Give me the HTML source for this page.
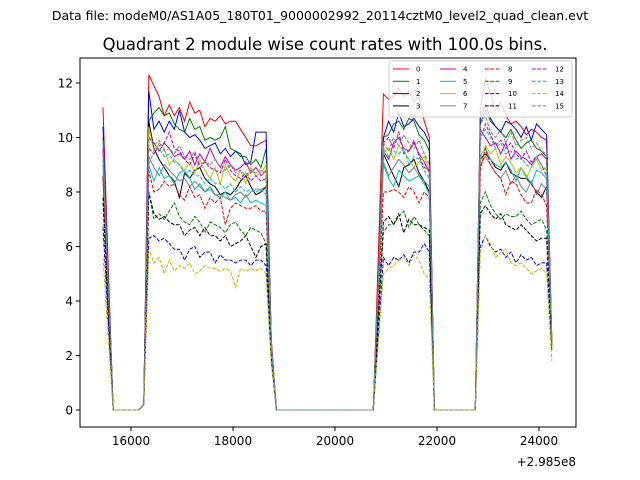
<!DOCTYPE html>
<html><head><meta charset="utf-8"><style>
body{margin:0;background:#fff;}
svg{font-family:"DejaVu Sans","Liberation Sans",sans-serif;display:block}
</style></head><body>
<svg id="chart" width="640" height="480">
<rect width="640" height="480" fill="#fff"/>
<text x="320" y="20" font-size="12.5" text-anchor="middle">Data file: modeM0/AS1A05_180T01_9000002992_20114cztM0_level2_quad_clean.evt</text>
<text x="325" y="50" font-size="16.4" text-anchor="middle">Quadrant 2 module wise count rates with 100.0s bins.</text>
<g id="plot"></g>
<rect x="80" y="58" width="496" height="369" fill="none" stroke="#000" stroke-width="1"/>
<g id="axes"></g>
<text x="576" y="466" font-size="12" text-anchor="end">+2.985e8</text>
<g id="legend"></g>
</svg>
<script>
const colors=["#ff0000","#008000","#0000ff","#000000","#bf00bf","#00bfbf","#bfbf00","#808080"];
const peak0=[11.1,10.0,10.4,8.6,9.5,9.9,9.2,9.0,8.5,7.6,6.7,7.8,9.6,9.2,5.6,9.4];
const mid0=[5.5,5.0,5.2,4.3,4.7,4.9,4.6,4.5,4.2,3.8,3.4,3.9,4.8,4.6,2.8,4.7];
const drop1=[2.6,2.5,2.5,2.2,2.4,2.3,2.4,2.3,2.2,2.0,1.8,2.0,2.4,2.3,1.7,2.4];
const rise2=[5.8,5.0,5.0,4.7,4.8,4.5,4.7,4.6,4.0,3.3,2.8,3.5,4.9,4.8,2.5,4.9];
const end3=[2.5,2.5,2.6,2.4,2.5,2.4,2.5,2.4,2.3,2.3,2.2,2.3,2.5,2.4,1.8,2.5];
const seg1=[
[12.3,11.9,11.5,10.8,11.2,10.8,11.1,10.6,11.3,10.9,11.0,10.4,10.7,10.6,10.8,10.5,10.6,10.6,10.3,10.0,9.7,9.7,9.8,9.9],
[10.6,10.9,11.1,10.8,10.9,10.5,10.3,10.2,10.7,10.3,10.4,9.9,10.0,9.9,10.0,10.4,9.6,9.5,9.3,9.3,9.0,9.2,8.9,9.6],
[11.7,10.3,10.6,10.2,10.6,10.3,11.0,10.2,10.0,10.1,9.9,9.6,9.7,9.8,9.4,9.6,9.3,9.5,9.4,9.0,9.1,10.2,10.2,10.2],
[10.6,9.6,9.2,8.9,8.6,8.4,7.8,8.7,8.5,8.8,8.9,8.5,8.3,8.2,7.9,8.0,7.9,8.1,8.4,8.6,8.2,7.9,8.0,8.2],
[10.0,9.8,9.5,9.8,9.6,9.3,9.4,9.2,9.5,9.0,9.4,9.1,9.6,9.2,8.9,9.3,9.0,8.8,8.9,9.1,8.7,8.9,8.6,8.8],
[9.0,8.4,8.9,8.5,8.6,8.3,8.7,8.8,8.5,8.1,8.3,8.0,8.2,7.9,7.8,8.0,7.7,7.8,7.6,7.9,7.6,7.7,7.6,7.5],
[10.4,9.5,9.8,9.6,9.0,9.2,9.0,8.8,9.1,8.7,9.2,8.8,8.5,8.9,8.3,9.0,8.6,8.4,8.8,8.3,8.9,8.6,8.7,9.0],
[9.3,8.9,8.6,9.0,8.8,8.6,8.4,8.5,8.2,8.4,8.2,8.0,8.1,7.9,7.9,7.8,7.7,7.9,8.0,7.8,8.0,8.1,8.1,8.2],
[8.8,8.0,8.1,8.4,8.2,8.3,7.9,7.7,8.2,7.8,7.9,7.4,7.8,7.6,7.8,6.8,7.4,7.6,7.5,7.4,7.4,7.5,7.3,7.3],
[8.0,7.0,7.2,7.0,7.3,7.6,7.1,6.9,6.8,7.1,6.9,6.5,6.9,6.8,6.7,6.5,6.8,6.9,6.6,6.4,6.7,6.6,6.5,6.1],
[6.3,6.4,6.2,6.3,6.1,5.9,5.9,5.5,5.9,6.0,5.6,5.8,5.8,5.4,5.7,5.5,5.5,5.4,5.5,5.5,5.3,5.5,5.5,5.3],
[8.0,7.2,7.0,7.1,6.9,6.8,6.8,6.4,6.6,6.7,6.4,6.7,6.4,6.4,6.2,6.4,6.0,6.1,6.2,6.4,6.0,5.6,6.0,6.1],
[9.6,9.4,9.7,9.8,10.2,9.6,9.5,9.2,9.0,9.4,8.9,9.1,8.9,8.8,8.7,9.2,8.8,8.6,8.5,8.7,8.4,8.6,8.4,8.5],
[9.0,9.5,9.6,9.3,9.4,9.1,9.0,8.7,8.8,8.6,8.6,8.3,8.5,8.3,8.3,8.1,8.3,8.0,8.2,8.0,8.1,8.0,8.1,7.9],
[5.9,5.4,5.6,5.0,5.5,5.1,5.3,5.2,5.4,5.0,5.1,5.3,5.2,5.2,5.1,5.2,5.1,4.5,5.2,5.1,5.2,5.1,5.2,5.0],
[10.0,9.7,9.9,9.5,9.6,9.4,9.7,9.3,9.2,9.5,9.0,9.1,9.0,9.2,8.9,8.8,9.0,8.7,8.8,8.6,8.8,8.7,8.8,8.7]];
const seg2=[
[11.6,11.4,11.5,11.8,11.5,11.7,11.3,11.5,10.6,10.0],
[10.0,10.1,10.5,10.6,10.3,10.7,10.6,10.1,9.9,9.5],
[10.0,10.6,10.2,10.9,10.4,10.5,10.7,10.4,10.2,9.8],
[9.4,9.0,8.6,8.2,8.9,9.0,9.2,8.7,8.4,8.0],
[9.5,9.2,9.8,10.0,9.6,9.5,9.8,9.4,9.1,8.7],
[9.0,8.5,8.2,8.8,8.6,8.4,8.5,8.6,8.3,7.9],
[9.4,9.6,9.2,9.7,9.5,9.2,8.9,9.1,9.3,8.8],
[9.1,8.6,8.9,9.2,9.0,8.7,8.9,8.6,8.4,8.2],
[8.0,8.0,8.1,8.0,7.8,8.2,8.0,7.6,8.0,7.8],
[6.5,6.8,6.8,7.1,7.3,6.7,7.1,6.8,6.6,6.4],
[5.6,5.3,5.6,5.5,5.7,5.4,5.8,5.8,6.1,5.8],
[6.9,7.1,6.8,7.2,6.5,7.0,6.8,6.8,6.7,6.6],
[9.8,10.0,9.6,10.2,9.4,9.5,9.9,9.3,8.9,8.8],
[9.6,9.3,9.5,9.4,9.6,9.0,9.3,9.2,8.8,8.5],
[5.0,5.2,5.3,5.5,5.6,5.3,5.7,5.5,5.0,4.8],
[9.8,9.5,10.0,9.7,10.1,9.8,9.6,9.9,9.4,9.0]];
const seg3=[
[11.0,12.2,11.6,11.0,11.3,10.8,10.5,10.6,10.4,10.1,10.3,10.2,10.0,9.9],
[10.5,11.0,10.6,10.4,10.2,10.0,10.3,9.9,9.6,9.8,9.9,9.6,9.5,9.3],
[10.8,11.2,10.7,10.4,10.2,10.6,10.5,10.3,10.0,10.4,9.9,10.5,10.3,10.1],
[9.2,9.4,9.2,8.9,8.8,9.1,8.7,8.6,8.5,8.5,8.3,8.0,7.8,8.2],
[10.3,10.0,9.7,9.8,9.4,9.8,9.2,9.5,9.3,9.2,9.0,9.3,9.4,9.2],
[9.3,9.6,9.2,9.0,8.9,9.1,8.8,8.4,8.9,8.6,8.3,8.8,8.7,8.5],
[9.2,9.7,9.4,9.6,9.0,9.3,9.1,8.7,8.9,8.5,8.9,9.2,8.8,8.9],
[9.0,9.3,9.0,8.7,8.5,8.8,8.3,8.6,8.2,8.0,8.4,7.9,8.3,8.1],
[8.8,9.6,9.0,8.7,8.5,7.9,8.4,8.3,7.9,7.6,7.6,8.1,7.9,7.5],
[7.6,8.0,7.5,7.2,7.0,7.2,7.1,7.1,7.3,7.0,6.8,6.9,7.0,6.6],
[6.0,6.4,6.0,5.8,5.9,5.6,5.8,5.4,5.7,5.5,5.6,5.3,5.4,5.4],
[7.2,7.5,7.2,7.0,7.2,6.8,6.7,6.6,6.8,6.6,6.4,6.2,6.3,6.3],
[9.9,10.5,10.1,9.7,9.9,9.6,9.8,9.4,9.2,9.5,9.1,9.3,9.0,8.6],
[10.0,10.3,10.0,9.6,9.8,9.4,9.5,9.2,9.3,9.0,8.9,9.3,9.0,8.8],
[5.8,6.4,6.1,5.6,5.8,5.9,5.4,5.3,5.4,5.2,5.0,5.1,5.2,5.0],
[10.5,10.8,10.2,10.0,10.3,9.8,10.2,9.7,9.9,10.0,9.6,9.8,9.5,9.4]];
const yTicks=[0,2,4,6,8,10,12];
const xTicks=[16000,18000,20000,22000,24000];
const tStart=15450, binSize=100;

const NS="http://www.w3.org/2000/svg";
const X=t=>131+(t-16000)*0.051;
const Y=v=>410-v*27.25;
function zeros(n){return new Array(n).fill(0);}
const plot=document.getElementById('plot'), axes=document.getElementById('axes'), legend=document.getElementById('legend');
for(let k=0;k<16;k++){
  const vals=[peak0[k],mid0[k]].concat(zeros(6),[0.2],seg1[k],[drop1[k]],zeros(20),[rise2[k]],seg2[k],zeros(9),seg3[k],[end3[k]]);
  const pts=vals.map((v,i)=>X(tStart+binSize*i).toFixed(1)+","+Y(v).toFixed(1)).join(" ");
  const pl=document.createElementNS(NS,'polyline');
  pl.setAttribute('points',pts);pl.setAttribute('fill','none');
  pl.setAttribute('stroke',colors[k%8]);pl.setAttribute('stroke-width','1');
  if(k>=8)pl.setAttribute('stroke-dasharray','3.7,1.6');
  
  
  plot.appendChild(pl);
}
yTicks.forEach(v=>{
  const y=Y(v);
  const l=document.createElementNS(NS,'line');
  l.setAttribute('x1',76);l.setAttribute('x2',80);l.setAttribute('y1',y);l.setAttribute('y2',y);l.setAttribute('stroke','#000');
  
  
  axes.appendChild(l);
  const t=document.createElementNS(NS,'text');
  t.setAttribute('x',73);t.setAttribute('y',y+4.5);t.setAttribute('font-size','12');t.setAttribute('text-anchor','end');
  t.textContent=v;
  
  
  axes.appendChild(t);
});
xTicks.forEach(v=>{
  const x=X(v);
  const l=document.createElementNS(NS,'line');
  l.setAttribute('x1',x);l.setAttribute('x2',x);l.setAttribute('y1',427);l.setAttribute('y2',431);l.setAttribute('stroke','#000');
  
  
  axes.appendChild(l);
  const t=document.createElementNS(NS,'text');
  t.setAttribute('x',x);t.setAttribute('y',445);t.setAttribute('font-size','12');t.setAttribute('text-anchor','middle');
  t.textContent=v;
  
  
  axes.appendChild(t);
});
const box=document.createElementNS(NS,'rect');
box.setAttribute('x',389);box.setAttribute('y',61);box.setAttribute('width',183);box.setAttribute('height',56);box.setAttribute('rx',2);
box.setAttribute('fill','rgba(255,255,255,0.8)');box.setAttribute('stroke','#ccc');


legend.appendChild(box);
const colX=[393,440,485,532];
for(let k=0;k<16;k++){
  const c=Math.floor(k/4), r=k%4;
  const y=69+r*12.3, x=colX[c];
  const l=document.createElementNS(NS,'line');
  l.setAttribute('x1',x);l.setAttribute('x2',x+16);l.setAttribute('y1',y);l.setAttribute('y2',y);
  l.setAttribute('stroke',colors[k%8]);
  if(k>=8)l.setAttribute('stroke-dasharray','3.7,1.6');
  
  
  legend.appendChild(l);
  const t=document.createElementNS(NS,'text');
  t.setAttribute('x',x+23);t.setAttribute('y',y+2.5);t.setAttribute('font-size','7');
  t.textContent=k;
  
  
  legend.appendChild(t);
}
</script>
</body></html>
